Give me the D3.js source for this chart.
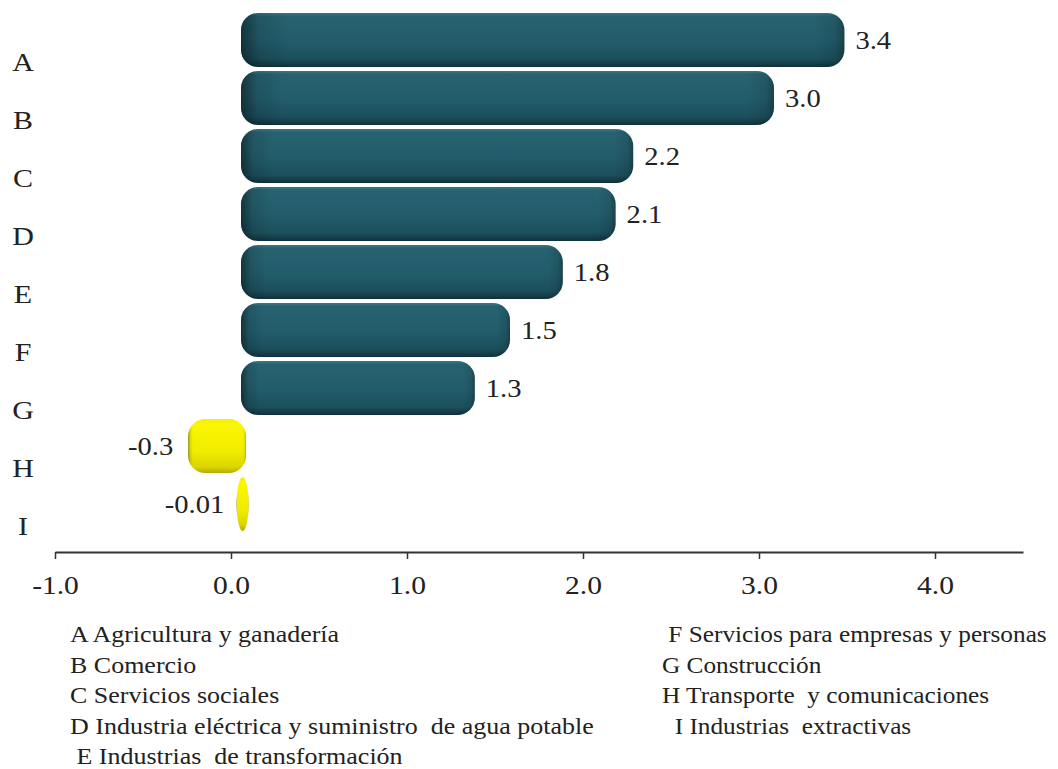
<!DOCTYPE html>
<html>
<head>
<meta charset="utf-8">
<script src="https://cdn.jsdelivr.net/npm/d3@7/dist/d3.min.js"></script>
<style>
  html, body { margin: 0; padding: 0; background: #fff; }
  svg { display: block; }
  text { font-family: "Liberation Serif", "Times New Roman", Times, serif; fill: #222; }
</style>
</head>
<body>
<svg id="chart" width="1058" height="769"></svg>
<script>
const FONT = '"Liberation Serif", "Times New Roman", Times, serif';
// Sector codes, top to bottom
const categories = ["A", "B", "C", "D", "E", "F", "G", "H", "I"];
// Growth value per sector
const values = [3.4, 3.0, 2.2, 2.1, 1.8, 1.5, 1.3, -0.3, -0.01];
// Printed value labels
const valueLabels = ["3.4", "3.0", "2.2", "2.1", "1.8", "1.5", "1.3", "-0.3", "-0.01"];
// Axis ticks
const tickValues = [-1, 0, 1, 2, 3, 4];
const tickLabels = ["-1.0", "0.0", "1.0", "2.0", "3.0", "4.0"];
// Legend entries
const legendLeft = [
  "A Agricultura y ganadería",
  "B Comercio",
  "C Servicios sociales",
  "D Industria eléctrica y suministro  de agua potable",
  " E Industrias  de transformación"
];
const legendRight = [
  " F Servicios para empresas y personas",
  "G Construcción",
  "H Transporte  y comunicaciones",
  "  I Industrias  extractivas"
];

const svg = d3.select("#chart");
const defs = svg.append("defs");

// Text placed at (x, y) and widened horizontally by sx
function place(sel, x, y, sx) {
  sel.attr("x", 0).attr("y", 0)
    .attr("transform", (d, i) => `translate(${typeof x === "function" ? x(d, i) : x},${typeof y === "function" ? y(d, i) : y}) scale(${sx},1)`);
}

// Cylinder-like shading for the bars
function shade(id, stops) {
  const g = defs.append("linearGradient").attr("id", id)
    .attr("x1", 0).attr("y1", 0).attr("x2", 0).attr("y2", 1);
  stops.forEach(s => g.append("stop").attr("offset", s[0]).attr("stop-color", s[1]));
}
shade("tealV", [[0, "#3b7a8a"], [0.06, "#27626f"], [0.5, "#235d6c"], [0.85, "#1c4f5c"], [1, "#0f313b"]]);
shade("yellowV", [[0, "#f4f000"], [0.1, "#fbf700"], [0.6, "#f1ec00"], [0.88, "#dcd600"], [1, "#b5ae00"]]);
const edge = defs.append("linearGradient").attr("id", "edgeH")
  .attr("x1", 0).attr("y1", 0).attr("x2", 1).attr("y2", 0);
[[0, 0.45], [0.03, 0.12], [0.08, 0], [0.95, 0], [0.985, 0.1], [1, 0.3]]
  .forEach(s => edge.append("stop").attr("offset", s[0]).attr("stop-color", "#000").attr("stop-opacity", s[1]));

const x = d3.scaleLinear().domain([-1, 4.5]).range([55, 1023]);
const y = d3.scaleBand().domain(categories).range([33, 555]).paddingInner(0).paddingOuter(0);

const axisY = 552;
const depthX = 10, depthY = -22;   // receding offset of the bars
const barH = 54;

// Category letters
const cat = svg.append("g").selectAll("text").data(categories).join("text")
  .attr("text-anchor", "middle")
  .style("font-family", FONT)
  .style("font-size", "25px")
  .text(d => d);
place(cat, 23, d => y(d) + y.bandwidth() / 2 + 9, 1.2);

// Bars
const bars = svg.append("g").selectAll("g").data(categories).join("g");
bars.each(function(d, i) {
  const v = values[i];
  let x0 = Math.min(x(0), x(v)) + depthX;
  let w = Math.abs(x(v) - x(0)) + 5;
  if (w < 12) { x0 -= (12 - w) / 2; w = 12; }
  const top = y(d) + y.bandwidth() / 2 + depthY - barH / 2;
  const rx = Math.min(w / 2, 17);
  const ry = w < 34 ? barH / 2 : 17;
  const g = d3.select(this);
  g.append("rect")
    .attr("x", x0).attr("y", top).attr("width", w).attr("height", barH)
    .attr("rx", rx).attr("ry", ry)
    .attr("fill", v >= 0 ? "url(#tealV)" : "url(#yellowV)");
  g.append("rect")
    .attr("x", x0).attr("y", top).attr("width", w).attr("height", barH)
    .attr("rx", rx).attr("ry", ry)
    .attr("fill", "url(#edgeH)");
  const t = g.append("text")
    .attr("text-anchor", v >= 0 ? "start" : "end")
    .style("font-family", FONT)
    .style("font-size", "26px")
    .text(valueLabels[i]);
  place(t, v >= 0 ? x(v) + 26 : x(v) - 5, top + barH / 2 + 9, 1.1);
});

// X axis
const axis = d3.axisBottom(x).tickValues(tickValues)
  .tickFormat((d, i) => tickLabels[i]).tickSize(7).tickSizeOuter(0);
const ax = svg.append("g").attr("transform", `translate(0,${axisY})`).call(axis)
  .attr("font-family", null).attr("font-size", null);
ax.select(".domain").attr("stroke", "#333").attr("stroke-width", 2);
ax.selectAll(".tick line").attr("stroke", "#333").attr("stroke-width", 1.5);
const tt = ax.selectAll(".tick text")
  .attr("dy", null)
  .style("font-family", FONT)
  .style("font-size", "25px")
  .attr("fill", "#222");
place(tt, 0, 42, 1.18);

// Legend
const leg = svg.append("g")
  .style("font-family", FONT).style("font-size", "23px").style("white-space", "pre");
const ll = leg.selectAll("text.l").data(legendLeft).join("text").attr("class", "l")
  .attr("xml:space", "preserve")
  .text(d => d);
place(ll, 70, (d, i) => 642 + i * 30.5, 1.13);
const lr = leg.selectAll("text.r").data(legendRight).join("text").attr("class", "r")
  .attr("xml:space", "preserve")
  .text(d => d);
place(lr, 662, (d, i) => 642 + i * 30.5, 1.1);
</script>
</body>
</html>
